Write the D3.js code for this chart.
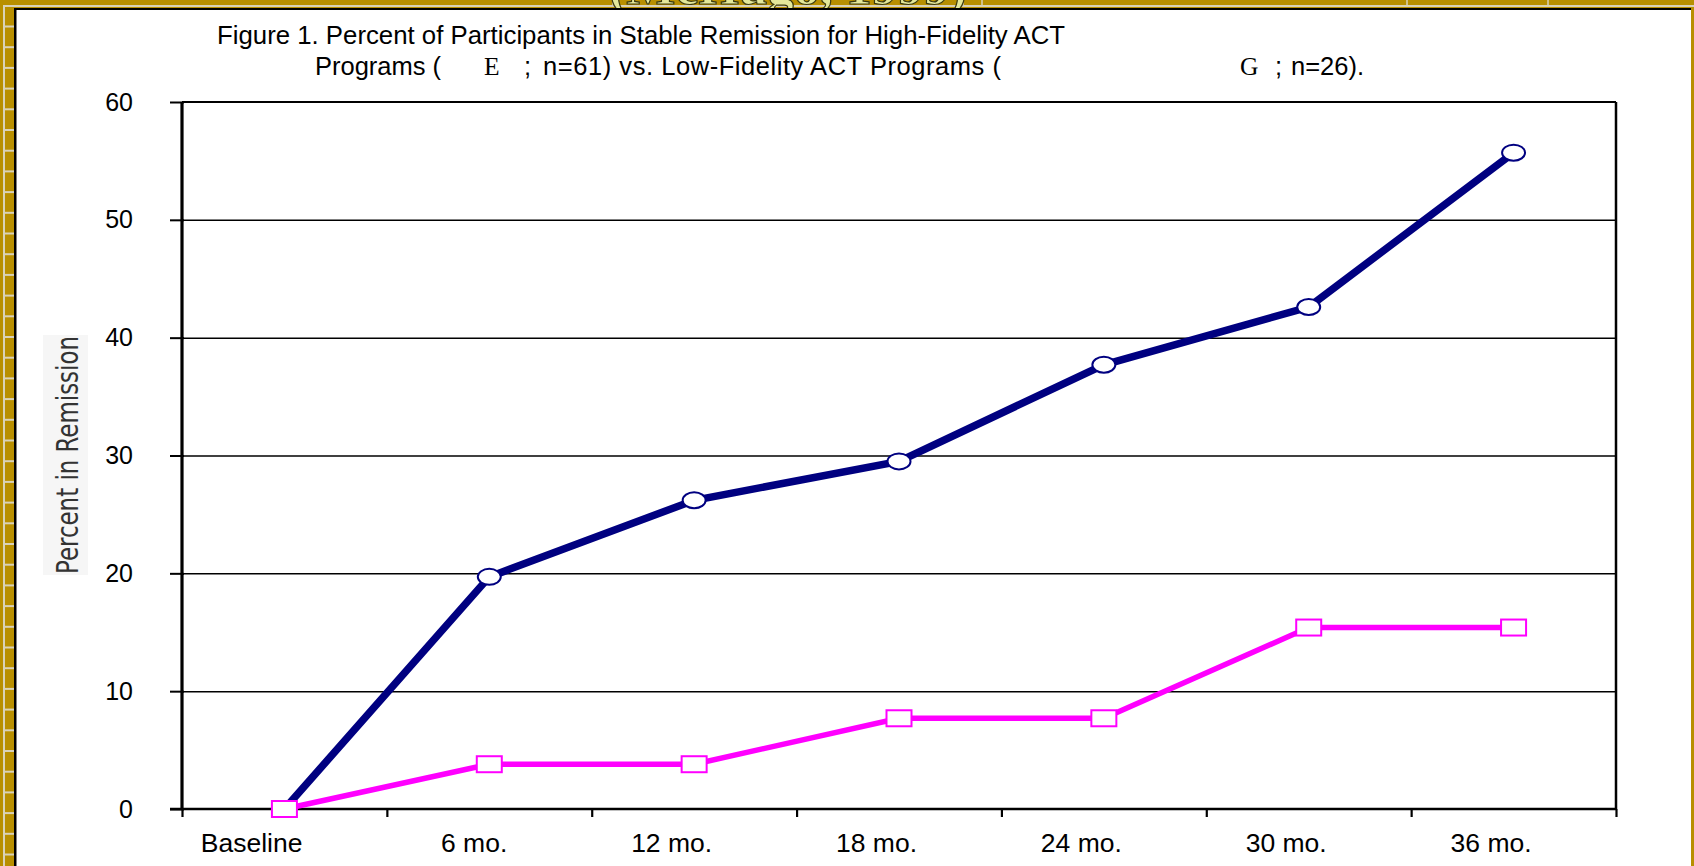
<!DOCTYPE html>
<html>
<head>
<meta charset="utf-8">
<script src="https://cdn.jsdelivr.net/npm/d3@7"></script>
<style>
  html,body{margin:0;padding:0;background:#B88F00;overflow:hidden;}
  svg{display:block;}
</style>
</head>
<body>
<div id="chart"></div>
<script>
const width=1694;
const height=866;

//chart data
const months=["Baseline","6 mo.","12 mo.","18 mo.","24 mo.","30 mo.","36 mo."];
const highFidelity=[0,19.7,26.2,29.5,37.7,42.6,55.7];
const lowFidelity=[0,3.8,3.8,7.7,7.7,15.4,15.4];
const yTicks=[0,10,20,30,40,50,60];

const svg=d3.select("#chart")
          .append("svg")
          .attr("width",width)
          .attr("height",height);

//gold frame with light lines
svg.append("rect").attr("width",width).attr("height",height).attr("fill","#B88F00");
svg.append("line").attr("x1",4).attr("x2",4).attr("y1",5).attr("y2",height).attr("stroke","#d9d2b8").attr("stroke-width",2);
svg.append("line").attr("x1",4).attr("x2",width).attr("y1",6).attr("y2",6).attr("stroke","#d9d2b8").attr("stroke-width",2);
svg.append("g").selectAll("line")
    .data(d3.range(26.5,height,20.7))
    .enter().append("line")
    .attr("x1",4).attr("x2",14).attr("y1",d=>d).attr("y2",d=>d)
    .attr("stroke","#d9d2b8").attr("stroke-width",2);
svg.append("g").selectAll("line")
    .data([613,963,982,1407,1548])
    .enter().append("line")
    .attr("x1",d=>d).attr("x2",d=>d).attr("y1",0).attr("y2",6)
    .attr("stroke","#d9d2b8").attr("stroke-width",1.5);

//cut off heading at the top
svg.append("clipPath").attr("id","topclip")
    .append("rect").attr("x",0).attr("y",0).attr("width",width).attr("height",8);
svg.append("text")
    .attr("clip-path","url(#topclip)")
    .attr("x",788).attr("y",4)
    .attr("text-anchor","middle")
    .attr("font-family","Liberation Serif, serif")
    .attr("font-weight","bold")
    .attr("font-size",52)
    .attr("fill","#E4E89A")
    .attr("stroke","#3a3a10")
    .attr("stroke-width",1.2)
    .text("(McHugo, 1999)");

//white panel
svg.append("rect").attr("x",14).attr("y",8).attr("width",1677).attr("height",height-8).attr("fill","#000");
svg.append("rect").attr("x",16.5).attr("y",10).attr("width",1674.5).attr("height",height-10).attr("fill","#fff");

const plotLeft=182, plotRight=1616, plotTop=102, plotBottom=809;

const x=d3.scaleBand().domain(months).range([plotLeft,plotRight]);
const xEdge=d3.scaleLinear().domain([0,months.length]).range([plotLeft,plotRight]);
const y=d3.scaleLinear().domain([0,60]).range([plotBottom,plotTop]);

//title
const title=svg.append("text")
    .attr("font-family","Liberation Sans, Arial, sans-serif")
    .attr("font-size",25.5)
    .attr("fill","#000");
title.append("tspan").attr("x",217).attr("y",44)
    .attr("textLength",848).attr("lengthAdjust","spacingAndGlyphs")
    .text("Figure 1.  Percent of Participants in Stable Remission for High-Fidelity ACT");
title.append("tspan").attr("x",315).attr("y",75).text("Programs (");
title.append("tspan").attr("x",484).attr("y",75).attr("font-family","Liberation Serif, serif").text("E");
title.append("tspan").attr("x",524).attr("y",75).text(";");
title.append("tspan").attr("x",543).attr("y",75)
    .attr("textLength",458).attr("lengthAdjust","spacing")
    .text("n=61) vs. Low-Fidelity ACT Programs (");
title.append("tspan").attr("x",1240).attr("y",75).attr("font-family","Liberation Serif, serif").text("G");
title.append("tspan").attr("x",1275).attr("y",75).text(";");
title.append("tspan").attr("x",1291).attr("y",75).text("n=26).");

//gridlines
svg.append("g")
    .attr("transform",`translate(${plotLeft},0)`)
    .call(d3.axisLeft(y).tickValues(yTicks.slice(1,6)).tickSize(-(plotRight-plotLeft)).tickFormat(""))
    .call(g=>g.select(".domain").remove())
    .call(g=>g.selectAll("line").attr("stroke","#000").attr("stroke-width",1.5));

//top and right border
svg.append("line").attr("x1",plotLeft).attr("x2",plotRight).attr("y1",y(60)).attr("y2",y(60)).attr("stroke","#000").attr("stroke-width",2);
svg.append("line").attr("x1",plotRight).attr("x2",plotRight).attr("y1",y(60)).attr("y2",plotBottom).attr("stroke","#000").attr("stroke-width",2.5);

//y axis
svg.append("g")
    .attr("transform",`translate(${plotLeft},0)`)
    .call(d3.axisLeft(y).tickValues(yTicks).tickSize(12).tickPadding(37))
    .call(g=>g.select(".domain").attr("stroke-width",3.2).attr("d",`M0,${plotBottom}V${plotTop}`))
    .call(g=>g.selectAll(".tick line").attr("stroke-width",2).attr("x2",-12).attr("x1",2))
    .call(g=>g.selectAll("text").attr("font-family","Liberation Sans, Arial, sans-serif").attr("font-size",25).attr("fill","#000"));

//x axis
svg.append("g")
    .attr("transform",`translate(0,${plotBottom})`)
    .call(d3.axisBottom(xEdge).ticks(months.length).tickSize(8).tickFormat(""))
    .call(g=>g.select(".domain").attr("stroke-width",2.5).attr("d",`M${plotLeft-12},0H${plotRight}`))
    .call(g=>g.selectAll(".tick line").attr("stroke-width",2.2));

svg.append("g").selectAll("text")
    .data(months)
    .enter().append("text")
    .attr("x",d=>x(d)+x.bandwidth()/2+18)
    .attr("y",plotBottom+43)
    .attr("text-anchor","end")
    .attr("font-family","Liberation Sans, Arial, sans-serif")
    .attr("font-size",26.5)
    .text(d=>d);

//y axis label
svg.append("rect").attr("x",43).attr("y",335).attr("width",45).attr("height",240).attr("fill","#f6f6f6");
svg.append("text")
    .attr("transform","translate(78,455) rotate(-90)")
    .attr("text-anchor","middle")
    .attr("font-family","Liberation Sans Narrow, DejaVu Sans Condensed, sans-serif")
    .attr("font-size",31)
    .attr("fill","#333")
    .attr("textLength",238).attr("lengthAdjust","spacingAndGlyphs")
    .text("Percent in Remission");

//lines
const line=d3.line()
    .x((d,i)=>x(months[i])+x.bandwidth()/2)
    .y(d=>y(d));

svg.append("path").datum(highFidelity)
    .attr("d",line).attr("fill","none")
    .attr("stroke","#000080").attr("stroke-width",7.5);
svg.append("path").datum(lowFidelity)
    .attr("d",line).attr("fill","none")
    .attr("stroke","#FF00FF").attr("stroke-width",5.5);

//markers
svg.append("g").selectAll("ellipse")
    .data(highFidelity)
    .enter().append("ellipse")
    .attr("cx",(d,i)=>x(months[i])+x.bandwidth()/2)
    .attr("cy",d=>y(d))
    .attr("rx",11.5).attr("ry",8)
    .attr("fill","#fff").attr("stroke","#000080").attr("stroke-width",2);

svg.append("g").selectAll("rect")
    .data(lowFidelity)
    .enter().append("rect")
    .attr("x",(d,i)=>x(months[i])+x.bandwidth()/2-12.5)
    .attr("y",d=>y(d)-8)
    .attr("width",25).attr("height",16)
    .attr("fill","#fff").attr("stroke","#FF00FF").attr("stroke-width",2);
</script>
</body>
</html>
